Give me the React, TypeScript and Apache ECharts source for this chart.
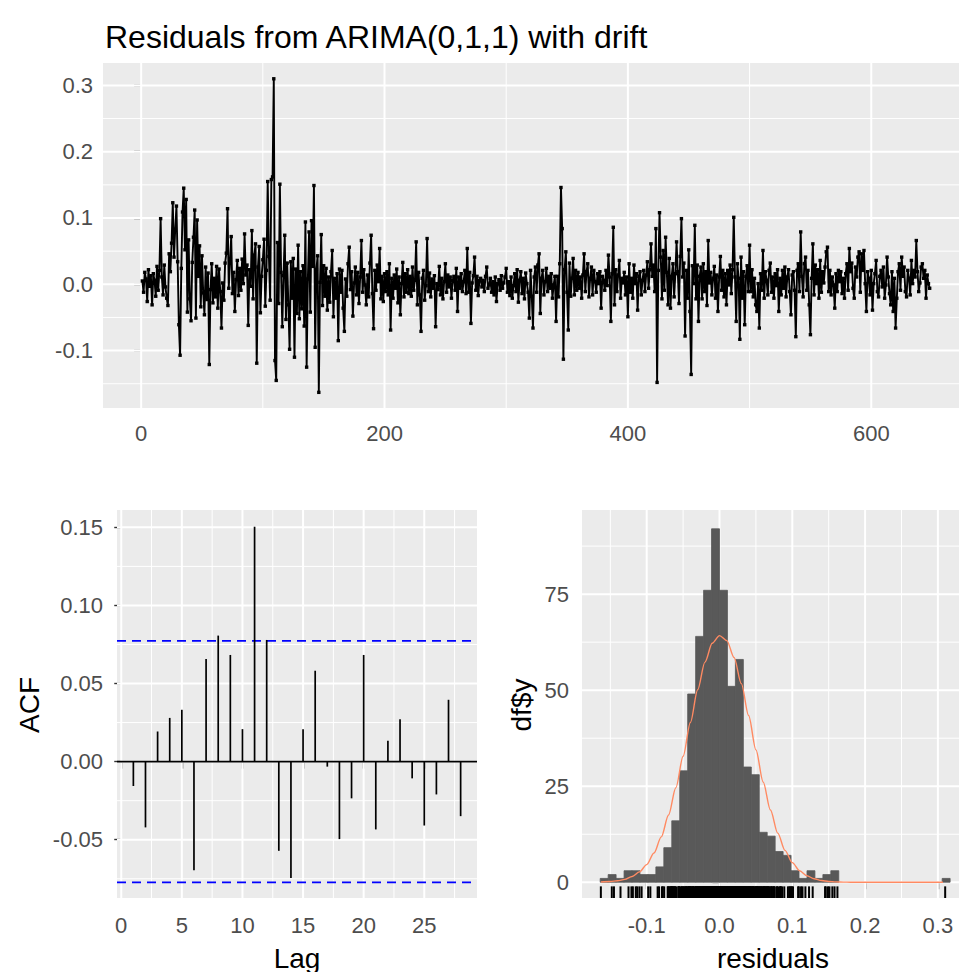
import React, { useEffect, useRef } from "react";
import * as echarts from "echarts";

// ---------- DATA ----------
const residuals: number[] = [
  0.005, -0.012, 0.018, 0.008, -0.026, 0.022, -0.003, 0.013, -0.031, 0.016, 0.006, -0.018, 0.027, -0.009, 0.021, 0.099, 0.011, -0.016, 0.029, -0.004,
  -0.021, -0.032, 0.046, 0.019, 0.062, 0.123, 0.041, 0.083, 0.118, 0.034, -0.061, -0.107, 0.024, 0.109, 0.145, 0.052, 0.128, -0.042, 0.067, -0.022,
  -0.055, 0.033, 0.071, 0.112, -0.051, 0.097, 0.012, 0.058, -0.034, 0.043, -0.013, -0.046, 0.026, -0.023, 0.017, -0.121, -0.008, 0.031, -0.028, 0.009,
  -0.019, 0.027, -0.036, 0.023, -0.011, -0.066, 0.002, -0.024, 0.032, 0.047, 0.114, -0.006, 0.033, 0.072, -0.014, 0.018, -0.041, 0.007, 0.036, -0.017,
  0.024, -0.009, 0.038, 0.001, 0.076, 0.014, 0.029, -0.062, 0.022, -0.003, 0.081, -0.022, 0.044, 0.061, -0.119, 0.026, 0.057, -0.043, 0.012, 0.037,
  0.068, -0.033, 0.021, 0.155, 0.042, -0.024, 0.158, 0.162, 0.31, -0.115, -0.145, 0.063, -0.029, 0.151, 0.018, -0.064, 0.013, 0.074, -0.053, 0.032,
  -0.031, -0.098, 0.034, -0.021, 0.039, -0.11, 0.023, -0.044, 0.059, -0.052, 0.019, -0.037, 0.028, -0.063, 0.094, -0.125, 0.008, 0.079, -0.042, 0.096,
  0.027, 0.149, -0.095, 0.022, 0.043, -0.163, 0.003, 0.075, -0.032, 0.028, -0.018, 0.024, -0.039, 0.011, -0.027, 0.019, 0.051, -0.049, 0.009, -0.021,
  0.016, -0.085, 0.023, -0.012, 0.021, -0.036, -0.071, 0.008, -0.018, 0.031, 0.056, -0.008, 0.019, -0.048, 0.002, 0.026, -0.016, 0.018, -0.029, 0.011,
  0.066, -0.012, 0.022, -0.001, -0.031, 0.014, -0.019, 0.032, 0.074, -0.014, -0.067, 0.021, -0.009, 0.029, 0.004, 0.054, -0.022, 0.012, -0.026, 0.016,
  -0.011, 0.019, -0.016, 0.031, -0.069, 0.009, -0.021, 0.014, -0.006, 0.023, -0.028, 0.011, -0.046, 0.001, 0.033, -0.019, 0.016, -0.012, 0.022, -0.014,
  0.012, -0.018, 0.026, -0.009, 0.006, 0.064, -0.031, 0.018, -0.016, -0.071, 0.009, 0.021, -0.024, -0.002, 0.069, -0.011, 0.017, -0.019, 0.008, -0.006,
  0.013, -0.064, 0.001, -0.008, 0.027, -0.016, 0.009, -0.022, 0.004, 0.031, -0.012, 0.014, -0.004, 0.011, -0.021, 0.006, 0.012, -0.009, 0.024, -0.041,
  0.011, -0.006, 0.016, -0.011, 0.004, 0.021, -0.014, 0.054, -0.012, 0.018, -0.059, 0.002, 0.013, 0.041, -0.009, 0.012, -0.017, 0.006, 0.009, -0.004,
  0.006, -0.011, 0.012, 0.026, -0.006, -0.001, 0.009, -0.012, 0.004, -0.016, 0.011, -0.026, 0.001, 0.007, -0.009, 0.013, -0.006, 0.002, 0.011, 0.024,
  -0.012, 0.004, -0.017, 0.011, -0.021, -0.002, 0.016, -0.011, 0.022, -0.027, 0.006, 0.019, -0.014, 0.009, -0.022, 0.017, 0.001, -0.012, -0.051, 0.021,
  -0.018, -0.066, 0.011, 0.026, -0.012, 0.029, 0.046, -0.044, 0.009, 0.021, -0.016, 0.004, 0.024, -0.011, 0.012, -0.006, 0.016, -0.021, -0.001, 0.012,
  -0.056, 0.012, -0.019, 0.031, 0.146, 0.084, -0.113, 0.022, 0.049, -0.012, -0.069, 0.032, -0.018, 0.009, 0.039, -0.016, 0.021, -0.009, 0.018, -0.006,
  0.011, -0.021, 0.014, 0.046, -0.011, 0.019, 0.031, -0.019, 0.009, 0.026, -0.016, 0.021, 0.004, -0.012, 0.016, 0.001, 0.019, -0.036, 0.012, 0.006,
  -0.009, 0.021, -0.002, 0.044, 0.011, -0.056, 0.016, 0.086, -0.031, 0.022, -0.011, 0.014, 0.036, -0.021, 0.009, 0.002, 0.018, -0.016, 0.011, -0.049,
  0.031, -0.012, 0.009, -0.021, 0.029, 0.001, 0.016, -0.039, 0.012, 0.019, -0.016, 0.006, 0.021, -0.011, 0.014, 0.034, -0.006, 0.022, 0.061, 0.012,
  0.029, -0.011, 0.084, -0.148, 0.021, 0.108, 0.041, -0.022, 0.051, -0.009, 0.071, 0.018, -0.031, 0.039, -0.036, 0.012, 0.031, -0.019, 0.016, 0.064,
  0.019, -0.029, 0.042, 0.099, 0.011, 0.032, -0.078, 0.021, -0.021, 0.052, -0.041, -0.136, 0.028, 0.001, 0.089, -0.022, 0.029, -0.056, 0.012, 0.026,
  -0.022, 0.031, -0.011, 0.019, -0.032, 0.066, 0.002, 0.018, -0.016, 0.009, 0.027, -0.021, 0.014, -0.041, 0.011, 0.042, -0.009, 0.021, -0.019, 0.016,
  -0.031, 0.021, -0.001, 0.029, -0.014, 0.022, 0.101, 0.011, -0.056, 0.031, 0.009, -0.083, 0.041, -0.021, 0.019, -0.061, 0.012, 0.028, -0.011, 0.059,
  -0.011, 0.022, -0.019, 0.009, -0.031, -0.041, 0.001, -0.066, 0.016, -0.009, 0.051, -0.021, 0.019, 0.006, -0.016, 0.021, 0.032, -0.012, 0.011, -0.021,
  0.016, -0.002, 0.022, -0.041, 0.009, -0.016, 0.021, -0.006, 0.026, -0.019, 0.011, 0.022, -0.011, -0.046, 0.014, 0.019, -0.009, -0.079, 0.021, 0.031,
  -0.011, 0.079, 0.012, -0.019, 0.031, 0.041, -0.009, 0.021, -0.031, -0.076, 0.009, 0.061, -0.016, 0.029, 0.001, 0.022, -0.021, 0.036, -0.012, 0.019,
  0.002, 0.026, 0.049, 0.056, -0.011, 0.021, -0.016, 0.011, -0.001, -0.036, 0.016, -0.011, 0.021, 0.004, 0.019, -0.014, 0.009, -0.021, 0.016, 0.031,
  -0.009, 0.054, 0.019, 0.032, -0.006, -0.021, 0.026, 0.011, 0.041, 0.049, -0.012, 0.046, 0.021, 0.051, 0.001, -0.041, 0.019, 0.009, -0.016, 0.021,
  -0.039, 0.001, 0.016, 0.036, -0.011, -0.019, 0.012, 0.021, -0.004, 0.026, -0.021, -0.001, 0.041, 0.011, -0.014, -0.031, 0.019, -0.041, 0.009, -0.066,
  -0.021, 0.019, 0.031, -0.009, 0.041, 0.012, 0.026, -0.011, -0.019, 0.021, 0.009, -0.016, 0.036, 0.001, 0.021, 0.011, 0.066, 0.019, -0.011, 0.002,
  0.026, 0.031, 0.009, 0.021, -0.021, 0.014, 0.001, -0.006,
];

const acfLags: number[] = [1, 2, 3, 4, 5, 6, 7, 8, 9, 10, 11, 12, 13, 14, 15, 16, 17, 18, 19, 20, 21, 22, 23, 24, 25, 26, 27, 28];
const acfValues: number[] = [
  -0.0156, -0.0421, 0.0193, 0.028, 0.0332, -0.0695, 0.0657, 0.0807, 0.0683, 0.0208,
  0.1504, 0.0779, -0.0571, -0.0745, 0.0208, 0.0582, -0.0032, -0.0496, -0.0235, 0.0683,
  -0.0434, 0.0133, 0.0272, -0.0107, -0.0409, -0.021, 0.0396, -0.0349,
];
const acfCriticalValue = 0.0773;

const histFirstBreak = -0.1639;
const histBinWidth = 0.010925;
const histCounts: number[] = [
  1, 2, 1, 3, 3, 2, 2, 4, 9, 16, 29, 49, 64, 76, 92, 76, 51, 58, 30, 28,
  13, 12, 8, 7, 3, 1, 3, 1, 2, 3, 0, 0, 0, 0, 0, 0, 0, 0, 0, 0,
  0, 0, 0, 1,
];

const densityX: number[] = [
  -0.163, -0.15, -0.14, -0.13, -0.12, -0.11, -0.1, -0.09, -0.08, -0.07, -0.06, -0.05, -0.04, -0.03, -0.02, -0.01,
  0.0, 0.01, 0.02, 0.03, 0.04, 0.05, 0.06, 0.07, 0.08, 0.09, 0.1, 0.11, 0.12, 0.13, 0.14, 0.15, 0.16, 0.17, 0.18, 0.2, 0.307,
];
const densityY: number[] = [
  0.06, 0.18, 0.38, 0.76, 1.5, 2.7, 4.6, 7.6, 11.8, 17.5, 24.6, 32.8, 41.6, 50.1, 57.3, 62.2,
  64.2, 62.9, 58.5, 51.7, 43.4, 34.5, 26.1, 18.8, 12.8, 8.3, 5.1, 3.0, 1.7, 0.9, 0.44, 0.21, 0.09, 0.04, 0.01, 0.0, 0.0,
];

const tsXTicks = [0, 200, 400, 600];
const tsXMinor = [100, 300, 500];
const tsYTicks = [-0.1, 0, 0.1, 0.2, 0.3];
const tsYMinor = [-0.15, -0.05, 0.05, 0.15, 0.25];
const acfXTicks = [0, 5, 10, 15, 20, 25];
const acfXMinor = [2.5, 7.5, 12.5, 17.5, 22.5, 27.5];
const acfYTicks = [-0.05, 0, 0.05, 0.1, 0.15];
const acfYMinor = [-0.075, -0.025, 0.025, 0.075, 0.125];
const histXTicks = [-0.1, 0, 0.1, 0.2, 0.3];
const histXMinor = [-0.15, -0.05, 0.05, 0.15, 0.25];
const histYTicks = [0, 25, 50, 75];
const histYMinor = [12.5, 37.5, 62.5, 87.5];

// ---------- STYLE ----------
const FONT = "'Liberation Sans', Arial, sans-serif";
const PANEL_BG = "#EBEBEB";
const TICK_COLOR = "#333333";
const LABEL_COLOR = "#4D4D4D";

function gridLinesSeries(idx: number, xMajor: number[], xMinor: number[], yMajor: number[], yMinor: number[]) {
  return {
    type: "custom",
    xAxisIndex: idx,
    yAxisIndex: idx,
    silent: true,
    z: 1,
    clip: true,
    data: [[0, 0]],
    renderItem: (params: any, api: any) => {
      const cs = params.coordSys;
      const children: any[] = [];
      const vline = (v: number, w: number) => {
        const x = api.coord([v, 0])[0];
        children.push({ type: "line", shape: { x1: x, y1: cs.y, x2: x, y2: cs.y + cs.height }, style: { stroke: "#FFFFFF", lineWidth: w } });
      };
      const hline = (v: number, w: number) => {
        const y = api.coord([0, v])[1];
        children.push({ type: "line", shape: { x1: cs.x, y1: y, x2: cs.x + cs.width, y2: y }, style: { stroke: "#FFFFFF", lineWidth: w } });
      };
      xMinor.forEach((v) => vline(v, 1));
      yMinor.forEach((v) => hline(v, 1));
      xMajor.forEach((v) => vline(v, 2));
      yMajor.forEach((v) => hline(v, 2));
      return { type: "group", children };
    },
  };
}

function valueAxis(idx: number, min: number, max: number, ticks: number[], fmt: (v: number) => string, margin: number) {
  return {
    type: "value",
    gridIndex: idx,
    min,
    max,
    axisLine: { show: false },
    axisTick: { show: true, customValues: ticks, length: 7, lineStyle: { color: TICK_COLOR, width: 1.4 } },
    axisLabel: { customValues: ticks, formatter: fmt, color: LABEL_COLOR, fontSize: 22, fontFamily: FONT, margin },
    splitLine: { show: false },
  };
}

export default function App() {
  const ref = useRef<HTMLDivElement>(null);

  useEffect(() => {
    if (!ref.current) return;
    const chart = echarts.init(ref.current, undefined, { renderer: "svg" });

    const tsData = residuals.map((v, i) => [i + 1, v]);
    const acfData = acfLags.map((l, i) => [l, acfValues[i]]);
    const histData = histCounts
      .map((c, k) => [histFirstBreak + k * histBinWidth, histFirstBreak + (k + 1) * histBinWidth, c])
      .filter((d) => d[2] > 0);
    const densData = densityX.map((x, i) => [x, densityY[i]]);
    const rugData = residuals.map((v) => [v, 0]);

    const option: any = {
      animation: false,
      backgroundColor: "#FFFFFF",
      textStyle: { fontFamily: FONT },
      grid: [
        { left: 103, top: 63, width: 856, height: 345, show: true, backgroundColor: PANEL_BG, borderWidth: 0 },
        { left: 117, top: 510, width: 360, height: 388, show: true, backgroundColor: PANEL_BG, borderWidth: 0 },
        { left: 582, top: 510, width: 377, height: 388, show: true, backgroundColor: PANEL_BG, borderWidth: 0 },
      ],
      xAxis: [
        valueAxis(0, -31.35, 672.1, tsXTicks, (v) => String(v), 14),
        valueAxis(1, -0.35, 29.35, acfXTicks, (v) => String(v), 16),
        valueAxis(2, -0.1889, 0.329, histXTicks, (v) => v.toFixed(1), 16),
      ],
      yAxis: [
        valueAxis(0, -0.1866, 0.3338, tsYTicks, (v) => v.toFixed(1), 10),
        valueAxis(1, -0.0873, 0.1611, acfYTicks, (v) => v.toFixed(2), 14),
        valueAxis(2, -4.1, 96.9, histYTicks, (v) => String(v), 13),
      ],
      graphic: [
        {
          type: "text", x: 105, y: 37,
          style: { text: "Residuals from ARIMA(0,1,1) with drift", fontSize: 32, fontFamily: FONT, fill: "#000000", align: "left", verticalAlign: "middle" },
        },
        {
          type: "text", x: 29, y: 705, rotation: Math.PI / 2,
          style: { text: "ACF", fontSize: 28, fontFamily: FONT, fill: "#000000", align: "center", verticalAlign: "middle" },
        },
        {
          type: "text", x: 297, y: 958,
          style: { text: "Lag", fontSize: 28, fontFamily: FONT, fill: "#000000", align: "center", verticalAlign: "middle" },
        },
        {
          type: "text", x: 521, y: 705, rotation: Math.PI / 2,
          style: { text: "df$y", fontSize: 28, fontFamily: FONT, fill: "#000000", align: "center", verticalAlign: "middle" },
        },
        {
          type: "text", x: 773, y: 958,
          style: { text: "residuals", fontSize: 28, fontFamily: FONT, fill: "#000000", align: "center", verticalAlign: "middle" },
        },
      ],
      series: [
        gridLinesSeries(0, tsXTicks, tsXMinor, tsYTicks, tsYMinor),
        gridLinesSeries(1, acfXTicks, acfXMinor, acfYTicks, acfYMinor),
        gridLinesSeries(2, histXTicks, histXMinor, histYTicks, histYMinor),
        {
          type: "line",
          xAxisIndex: 0,
          yAxisIndex: 0,
          data: tsData,
          z: 3,
          showSymbol: true,
          symbol: "rect",
          symbolSize: 3.4,
          itemStyle: { color: "#000000" },
          lineStyle: { color: "#000000", width: 1.9 },
          silent: true,
        },
        {
          type: "custom",
          xAxisIndex: 1,
          yAxisIndex: 1,
          z: 3,
          silent: true,
          data: [[0, 0]],
          renderItem: (params: any, api: any) => {
            const cs = params.coordSys;
            const y0 = api.coord([0, 0])[1];
            const yu = api.coord([0, acfCriticalValue])[1];
            const yl = api.coord([0, -acfCriticalValue])[1];
            const dash = { stroke: "#0000FF", lineWidth: 1.6, lineDash: [9, 6] };
            return {
              type: "group",
              children: [
                { type: "line", shape: { x1: cs.x, y1: y0, x2: cs.x + cs.width, y2: y0 }, style: { stroke: "#000000", lineWidth: 1.6 } },
                { type: "line", shape: { x1: cs.x, y1: yu, x2: cs.x + cs.width, y2: yu }, style: dash },
                { type: "line", shape: { x1: cs.x, y1: yl, x2: cs.x + cs.width, y2: yl }, style: dash },
              ],
            };
          },
        },
        {
          type: "custom",
          xAxisIndex: 1,
          yAxisIndex: 1,
          z: 4,
          silent: true,
          data: acfData,
          renderItem: (params: any, api: any) => {
            const a = api.coord([api.value(0), 0]);
            const b = api.coord([api.value(0), api.value(1)]);
            return { type: "line", shape: { x1: a[0], y1: a[1], x2: b[0], y2: b[1] }, style: { stroke: "#000000", lineWidth: 1.7 } };
          },
        },
        {
          type: "custom",
          xAxisIndex: 2,
          yAxisIndex: 2,
          z: 3,
          silent: true,
          data: histData,
          encode: { x: [0, 1], y: 2 },
          renderItem: (params: any, api: any) => {
            const p0 = api.coord([api.value(0), api.value(2)]);
            const p1 = api.coord([api.value(1), 0]);
            return {
              type: "rect",
              shape: { x: p0[0], y: p0[1], width: p1[0] - p0[0], height: p1[1] - p0[1] },
              style: { fill: "#595959", stroke: "#595959", lineWidth: 0.8 },
            };
          },
        },
        {
          type: "line",
          xAxisIndex: 2,
          yAxisIndex: 2,
          z: 4,
          silent: true,
          data: densData,
          showSymbol: false,
          smooth: 0.3,
          smoothMonotone: "x",
          lineStyle: { color: "#FF8A62", width: 1.4 },
        },
        {
          type: "custom",
          xAxisIndex: 2,
          yAxisIndex: 2,
          z: 4,
          silent: true,
          data: rugData,
          renderItem: (params: any, api: any) => {
            const cs = params.coordSys;
            const x = api.coord([api.value(0), 0])[0];
            const yb = cs.y + cs.height;
            return { type: "line", shape: { x1: x, y1: yb, x2: x, y2: yb - cs.height * 0.03 }, style: { stroke: "#000000", lineWidth: 2 } };
          },
        },
      ],
    };

    chart.setOption(option);
    return () => chart.dispose();
  }, []);

  return <div ref={ref} style={{ position: "absolute", left: 0, top: 0, width: 959, height: 972 }} />;
}
